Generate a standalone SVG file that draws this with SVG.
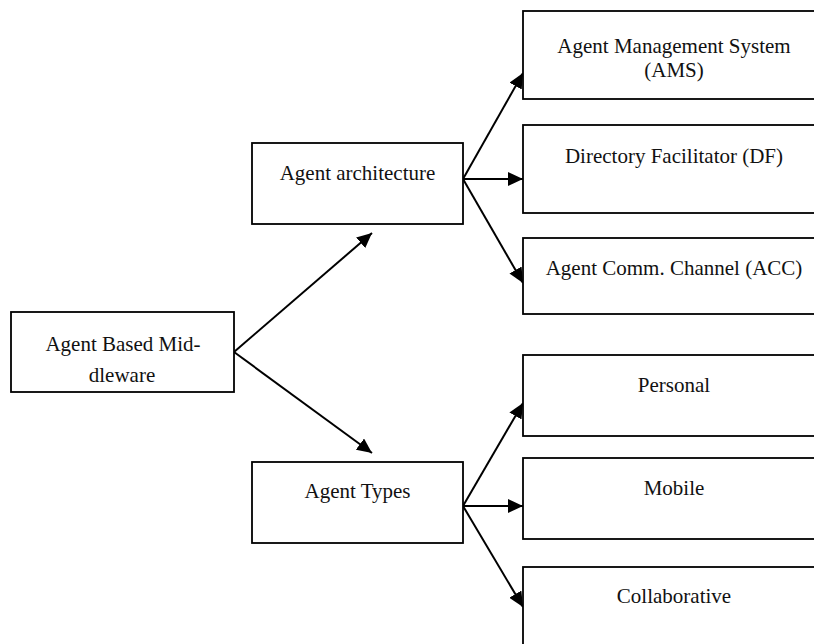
<svg xmlns="http://www.w3.org/2000/svg" width="814" height="644" viewBox="0 0 814 644">
<style>
.box{fill:#fff;stroke:#000;stroke-width:1.8}
.t{font-family:"Liberation Serif","Times New Roman",serif;font-size:21px;fill:#111;text-anchor:middle}
.c{stroke:#000;stroke-width:2;fill:none;marker-end:url(#ah)}
</style>
<defs>
<marker id="ah" markerUnits="userSpaceOnUse" markerWidth="15" markerHeight="14" refX="15" refY="7" orient="auto">
<path d="M0,0 L15,7 L0,14 z" fill="#000"/>
</marker>
</defs>
<rect width="814" height="644" fill="#fff"/>
<g id="connectors">
<line class="c" x1="234" y1="352" x2="372" y2="233"/>
<line class="c" x1="234" y1="352" x2="372" y2="453"/>
<line class="c" x1="463" y1="179" x2="523" y2="73"/>
<line class="c" x1="463" y1="179" x2="523" y2="179"/>
<line class="c" x1="463" y1="179" x2="523" y2="283"/>
<line class="c" x1="463" y1="506" x2="523" y2="403"/>
<line class="c" x1="463" y1="506" x2="523" y2="506"/>
<line class="c" x1="463" y1="506" x2="523" y2="607"/>
</g>
<g id="middleware">
<rect class="box" x="11" y="312" width="223" height="80"/>
<text class="t" x="123" y="351">Agent Based Mid-</text>
<text class="t" x="122" y="382">dleware</text>
</g>
<g id="architecture">
<rect class="box" x="252" y="143" width="211" height="81"/>
<text class="t" x="357.5" y="180">Agent architecture</text>
</g>
<g id="types">
<rect class="box" x="252" y="462" width="211" height="81"/>
<text class="t" x="357.5" y="498">Agent Types</text>
</g>
<g id="ams">
<rect class="box" x="523" y="11" width="302" height="88"/>
<text class="t" x="674" y="53">Agent Management System</text>
<text class="t" x="674" y="77">(AMS)</text>
</g>
<g id="df">
<rect class="box" x="523" y="125" width="302" height="88"/>
<text class="t" x="674" y="163">Directory Facilitator (DF)</text>
</g>
<g id="acc">
<rect class="box" x="523" y="238" width="302" height="76"/>
<text class="t" x="674" y="275">Agent Comm. Channel (ACC)</text>
</g>
<g id="personal">
<rect class="box" x="523" y="355" width="302" height="81"/>
<text class="t" x="674" y="392">Personal</text>
</g>
<g id="mobile">
<rect class="box" x="523" y="458" width="302" height="81"/>
<text class="t" x="674" y="495">Mobile</text>
</g>
<g id="collaborative">
<rect class="box" x="523" y="567" width="302" height="81"/>
<text class="t" x="674" y="603">Collaborative</text>
</g>
</svg>
